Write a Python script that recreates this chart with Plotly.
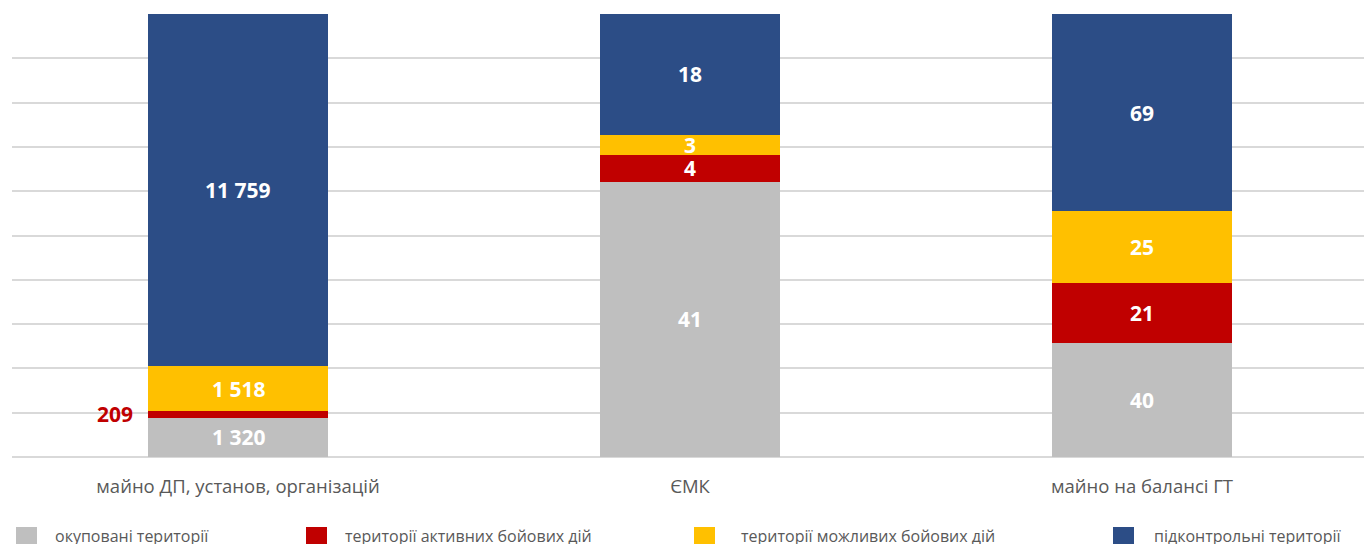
import plotly.graph_objects as go

categories = ["майно ДП, установ, організацій", "ЄМК", "майно на балансі ГТ"]
series_names = ["окуповані території", "території активних бойових дій",
                "території можливих бойових дій", "підконтрольні території"]
occupied = [1320, 41, 40]
active = [209, 4, 21]
possible = [1518, 3, 25]
controlled = [11759, 18, 69]
labels_occupied = ["1 320", "41", "40"]
labels_active = ["209", "4", "21"]
labels_possible = ["1 518", "3", "25"]
labels_controlled = ["11 759", "18", "69"]

colors = ["#bfbfbf", "#c00000", "#ffc000", "#2c4d86"]
series = [occupied, active, possible, controlled]
labels = [labels_occupied, labels_active, labels_possible, labels_controlled]

FONT = "Open Sans"
OFF = 8  # default page body margin in the browser
W, H = 1372 - OFF, 544 - OFF
ML, MR, MT = 12 - OFF, 4, 14 - OFF
PH = 443
MB = H - MT - PH
PW = W - ML - MR


def px_x(px):
    return (px - OFF - ML) / PW


def px_y(py):
    return (H - MB - (py - OFF)) / PH


fig = go.Figure()
for name, vals, col in zip(series_names, series, colors):
    fig.add_trace(go.Bar(
        x=categories, y=vals, name=name, marker=dict(color=col, line=dict(width=0)),
        width=0.4, hoverinfo="skip", showlegend=False,
    ))

totals = [sum(v[i] for v in series) for i in range(len(categories))]
annotations = []
for i, cat in enumerate(categories):
    cum = 0
    for s, (vals, labs) in enumerate(zip(series, labels)):
        v = vals[i]
        mid = (cum + v / 2) / totals[i] * 100
        cum += v
        if i == 0 and s == 1:
            annotations.append(dict(
                x=cat, y=mid, text="<b>%s</b>" % labs[i], showarrow=False,
                xanchor="right", yanchor="middle", xshift=-103,
                font=dict(family=FONT, size=21, color="#c00000"),
            ))
        else:
            annotations.append(dict(
                x=cat, y=mid, text="<b>%s</b>" % labs[i], showarrow=False,
                xanchor="center", yanchor="middle",
                font=dict(family=FONT, size=21, color="#ffffff"),
            ))

# manual legend (positions in screen pixels, converted to paper coordinates)
legend_marker_left = [16, 306, 694, 1113]
legend_text_left = [53, 343, 739, 1152]
shapes = []
for name, col, mx, tx in zip(series_names, colors, legend_marker_left, legend_text_left):
    shapes.append(dict(type="rect", xref="paper", yref="paper",
                       x0=px_x(mx), x1=px_x(mx + 21), y0=px_y(527 + 17), y1=px_y(527),
                       fillcolor=col, line=dict(width=0)))
    annotations.append(dict(xref="paper", yref="paper", x=px_x(tx), y=px_y(536),
                            text=name, showarrow=False, xanchor="left", yanchor="middle",
                            font=dict(family=FONT, size=16, color="#595959")))

fig.update_layout(
    barmode="stack", barnorm="percent",
    width=W, height=H,
    margin=dict(l=ML, r=MR, t=MT, b=MB, autoexpand=False),
    plot_bgcolor="white", paper_bgcolor="white",
    font=dict(family=FONT, color="#595959"),
    showlegend=False,
    annotations=annotations,
    shapes=shapes,
    xaxis=dict(showgrid=False, showline=False, ticks="", ticklabelstandoff=16,
               tickfont=dict(family=FONT, size=18.5, color="#595959")),
    yaxis=dict(range=[0, 100], dtick=10, showticklabels=False, gridcolor="#d9d9d9",
               gridwidth=1.5, zeroline=True, zerolinecolor="#d9d9d9", zerolinewidth=1.5,
               showline=False),
)

fig.write_html("out.html")
